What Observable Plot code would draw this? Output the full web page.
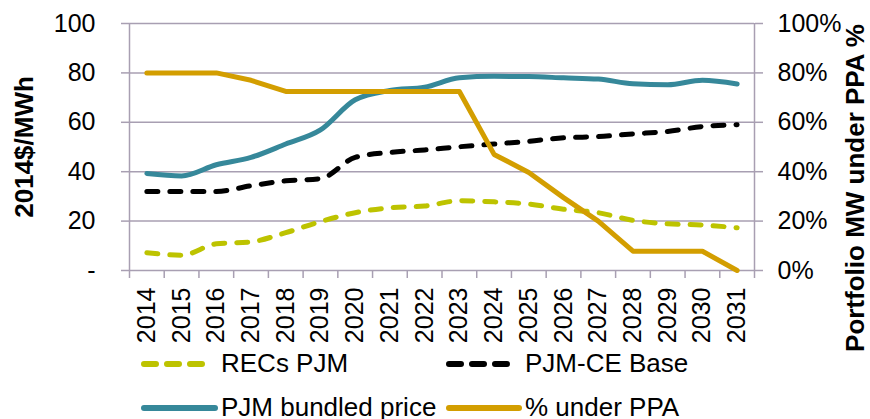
<!DOCTYPE html>
<html>
<head>
<meta charset="utf-8">
<script src="https://cdn.jsdelivr.net/npm/d3@7"></script>
<script src="https://cdn.jsdelivr.net/npm/@observablehq/plot@0.6"></script>
<style>
  html, body { margin: 0; padding: 0; background: #fff; }
  #wrap { position: relative; width: 870px; height: 419px; overflow: hidden; font-family: Arial, "Liberation Sans", sans-serif; }
  .legtxt { position: absolute; font-size: 26px; line-height: 30px; color: #000; white-space: nowrap; }
  .legsw { position: absolute; display: block; }
</style>
</head>
<body>
<div id="wrap"></div>
<script>
const years = [2014, 2015, 2016, 2017, 2018, 2019, 2020, 2021, 2022, 2023, 2024, 2025, 2026, 2027, 2028, 2029, 2030, 2031];
const recsPJM = [7.2, 6.2, 10.8, 11.6, 15.3, 19.8, 23.4, 25.4, 26.1, 28.2, 27.8, 26.9, 24.8, 23.4, 20.3, 18.9, 18.4, 17.3];
const pjmCEBase = [32, 32, 32, 34.3, 36.3, 37.2, 45.8, 47.8, 48.8, 50.1, 51.2, 52.3, 53.7, 54.2, 55.3, 56.3, 58.3, 59];
const bundledPrice = [39.3, 38.3, 42.8, 45.8, 51.2, 56.9, 69.1, 72.9, 74.2, 78, 78.6, 78.5, 78, 77.5, 75.6, 75.2, 77, 75.5];
const underPPA = [80, 80, 80, 77, 72.5, 72.5, 72.5, 72.5, 72.5, 72.5, 47, 39.7, 29.5, 20, 7.8, 7.8, 7.8, 0];
const leftTicks = [0, 20, 40, 60, 80, 100];
const rightTicks = [0, 20, 40, 60, 80, 100];

const series = [
  {name: "RECs PJM", values: recsPJM, color: "#bdc300", dash: "11,12", curve: "monotone-x"},
  {name: "PJM-CE Base", values: pjmCEBase, color: "#000000", dash: "11,12", curve: "monotone-x"},
  {name: "PJM bundled price", values: bundledPrice, color: "#36889a", dash: null, curve: "monotone-x"},
  {name: "% under PPA", values: underPPA, color: "#d39e00", dash: null, curve: "linear"}
];

const gridColor = "#a89fb2";
const boundaries = d3.range(years.length + 1).map(i => years[0] - 0.5 + i);

const lineMarks = series.map(s => Plot.line(years.map((y, i) => ({year: y, v: s.values[i]})), {
  x: "year", y: "v", stroke: s.color, strokeWidth: 5,
  strokeDasharray: s.dash, strokeLinecap: "round", strokeLinejoin: "round", curve: s.curve
}));

const chart = Plot.plot({
  width: 870,
  height: 419,
  marginLeft: 129,
  marginRight: 116,
  marginTop: 23,
  marginBottom: 149,
  style: {fontFamily: 'Arial, "Liberation Sans", sans-serif', fontSize: "25px", color: "#000", background: "#fff", overflow: "visible"},
  x: {type: "linear", domain: [boundaries[0], boundaries[boundaries.length - 1]]},
  y: {domain: [0, 100]},
  marks: [
    Plot.ruleY(leftTicks.filter(d => d > 0), {stroke: gridColor, strokeWidth: 1.5}),
    Plot.ruleY([0], {stroke: gridColor, strokeWidth: 1.5}),
    Plot.ruleX([boundaries[0], boundaries[boundaries.length - 1]], {stroke: gridColor, strokeWidth: 1.5}),
    Plot.axisX(boundaries, {tickSize: 8, tickFormat: () => "", stroke: gridColor, strokeWidth: 1.5, label: null}),
    Plot.axisX(years, {tickSize: 0, tickRotate: -90, tickPadding: 17, tickFormat: d => String(d), fontSize: 25, label: null}),
    Plot.axisY(leftTicks, {anchor: "left", tickSize: 8, tickPadding: 26, stroke: gridColor, strokeWidth: 1.5, tickFormat: d => d === 0 ? "-" : String(d), fontSize: 25, label: null}),
    Plot.axisY(rightTicks, {anchor: "right", tickSize: 8, tickPadding: 15, stroke: gridColor, strokeWidth: 1.5, tickFormat: d => d + "%", fontSize: 25, label: null}),
    Plot.text(["2014$/MWh"], {text: d => d, frameAnchor: "left", textAnchor: "middle", dx: -105, rotate: -90, fontSize: 26, fontWeight: "bold", fill: "#000"}),
    Plot.text(["Portfolio MW under PPA %"], {text: d => d, frameAnchor: "right", textAnchor: "middle", dx: 101, dy: 41, rotate: -90, fontSize: 26, fontWeight: "bold", fill: "#000"}),
    ...lineMarks
  ]
});

const wrap = document.getElementById("wrap");
wrap.appendChild(chart);

// legend layout: swatch start/end, text start, row centre
const legendPos = [
  {x1: 144, x2: 205, tx: 221, cy: 364},
  {x1: 449, x2: 510, tx: 525, cy: 364},
  {x1: 144, x2: 215, tx: 221, cy: 408},
  {x1: 449, x2: 519, tx: 525, cy: 408}
];
series.forEach((s, i) => {
  const p = legendPos[i];
  const w = p.x2 - p.x1 + 6;
  const svg = d3.create("svg").attr("class", "legsw").attr("width", w).attr("height", 10)
    .style("left", (p.x1 - 3) + "px").style("top", (p.cy - 5) + "px");
  svg.append("line").attr("x1", 3).attr("x2", w - 3).attr("y1", 5).attr("y2", 5)
    .attr("stroke", s.color).attr("stroke-width", 6).attr("stroke-linecap", "round")
    .attr("stroke-dasharray", s.dash ? "12,11" : null);
  wrap.appendChild(svg.node());
  const span = document.createElement("div");
  span.className = "legtxt";
  span.textContent = s.name;
  span.style.left = p.tx + "px";
  span.style.top = (p.cy - 16) + "px";
  wrap.appendChild(span);
});
</script>
</body>
</html>
